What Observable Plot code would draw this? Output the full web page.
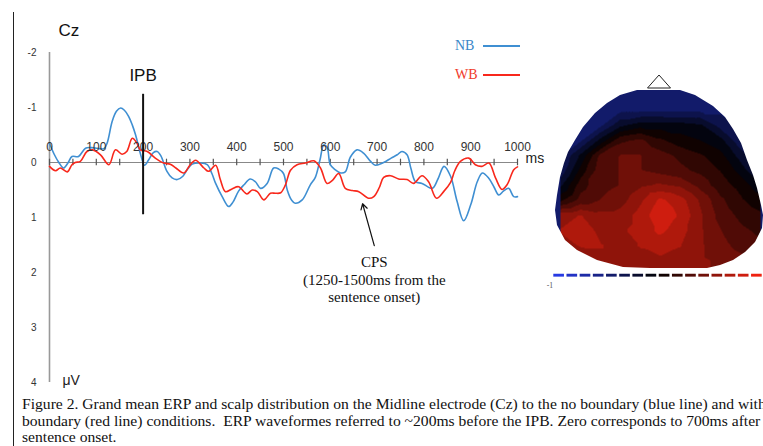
<!DOCTYPE html>
<html><head><meta charset="utf-8">
<script src="https://cdn.jsdelivr.net/npm/d3@7"></script>
<script src="https://cdn.jsdelivr.net/npm/@observablehq/plot@0.6"></script>
<style>
html,body{margin:0;padding:0;background:#fff}
body{width:763px;height:446px;overflow:hidden;position:relative;font-family:"Liberation Sans",Arial,sans-serif}
#border{position:absolute;left:13px;top:12px;width:1px;height:434px;background:#222}
#chart{position:absolute;left:0;top:0}
#scalp{position:absolute;left:548px;top:85px}
#bar{position:absolute;left:552px;top:268px}
#nose{position:absolute;left:645px;top:73px}
.lg{position:absolute;font-family:"Liberation Serif","Times New Roman",serif;font-size:14px;line-height:14px}
.lgline{position:absolute;height:1.5px;width:37px}
#caption{position:absolute;left:22px;top:397px;font-family:"Liberation Serif","Times New Roman",serif;font-size:14px;line-height:16.7px;white-space:nowrap;color:#111;transform:scaleX(1.115);transform-origin:0 0}
</style></head>
<body>
<div id="chart"></div>
<div id="scalp"></div>
<div id="bar"></div>
<svg id="nose" width="28" height="17"><polygon points="2.5,15 25.5,15 14,2" fill="#fff" stroke="#222" stroke-width="1"/></svg>
<div class="lg" style="left:455px;top:39px;color:#3a86c8">NB</div>
<div class="lgline" style="left:483px;top:45px;background:#3f8fd2"></div>
<div class="lg" style="left:455px;top:68px;color:#f03a2a">WB</div>
<div class="lgline" style="left:483px;top:74px;background:#f8281c"></div>
<div id="border"></div>
<div id="caption">Figure 2. Grand mean ERP and scalp distribution on the Midline electrode (Cz) to the no boundary (blue line) and with<br>boundary (red line) conditions.&nbsp; ERP waveformes referred to ~200ms before the IPB. Zero corresponds to 700ms after<br>sentence onset.</div>
<script>
// ---- data ----
const yTicks = [-2, -1, 0, 1, 2, 3, 4];
const msTicks = [0,50,100,150,200,250,300,350,400,450,500,550,600,650,700,750,800,850,900,950,1000];
const msLabels = [0,100,200,300,400,500,600,700,800,900,1000];

const nbTime = [0,10,20,30,40,48,62,77,90,102,116,123,134,143,152,160,169,177,184,194,203,212,222,230,238,251,262,273,285,295,305,323,337,347,355,369,383,392,404,415,429,440,451,465,479,490,500,508,517,525,540,557,568,578,586,593,600,610,622,632,643,657,671,685,696,714,730,743,753,764,772,782,796,818,830,843,857,871,885,900,914,925,939,950,960,970,981,992,1000];
const nbAmp  = [-0.35,-0.15,0.0,0.10,0.0,-0.11,-0.11,-0.26,-0.27,-0.26,-0.25,-0.35,-0.75,-0.93,-0.99,-0.95,-0.84,-0.68,-0.50,-0.17,0.05,-0.05,-0.18,-0.20,-0.12,0.16,0.28,0.31,0.25,0.12,0.03,0.01,0.04,0.20,0.38,0.62,0.80,0.72,0.52,0.41,0.30,0.35,0.47,0.38,0.10,0.12,0.20,0.50,0.68,0.74,0.68,0.41,0.27,-0.05,-0.32,-0.28,0.04,0.13,0.19,0.17,-0.10,-0.23,-0.17,-0.03,0.05,0.00,-0.08,-0.14,-0.20,-0.14,0.10,0.35,0.38,0.47,0.30,0.07,0.25,0.71,1.06,0.77,0.35,0.19,0.29,0.45,0.59,0.52,0.47,0.62,0.62];

const wbTime = [0,13,23,38,48,55,66,80,92,109,127,141,155,165,177,187,194,209,226,244,258,270,287,300,312,330,340,355,365,376,390,404,422,433,444,458,472,483,494,504,515,529,547,565,579,593,604,618,632,647,661,682,693,705,714,729,746,764,778,796,810,827,843,857,866,878,896,910,924,939,953,967,978,992,1000];
const wbAmp  = [0.07,0.15,0.10,0.17,0.04,0.00,-0.02,-0.20,-0.23,-0.14,0.04,-0.23,-0.15,-0.20,-0.44,-0.35,-0.23,-0.20,-0.08,0.01,0.03,0.10,0.19,0.05,-0.04,0.10,0.16,0.05,0.31,0.53,0.48,0.44,0.57,0.50,0.53,0.68,0.56,0.56,0.55,0.41,0.14,0.04,0.01,-0.03,0.10,0.38,0.33,0.20,0.47,0.51,0.53,0.65,0.62,0.45,0.27,0.24,0.30,0.31,0.38,0.24,0.35,0.65,0.52,0.36,0.15,-0.02,-0.08,0.04,0.07,0.01,0.28,0.49,0.40,0.13,0.08];

const ipbTime = [200];
const cpsNote = ["CPS\n(1250-1500ms from the\nsentence onset)"];

// scalp map samples (map grid columns / rows and potential values)
const scalpX = [560,580,600,620,640,660,680,700,720,740,760];
const scalpY = [95,110,125,140,155,170,185,200,215,230,245,260,272];
const scalpV = [
  [-0.4,-0.4,-0.4,-0.4,-0.4,-0.4,-0.4,-0.4,-0.4,-0.4,-0.4],
  [-0.4,-0.4,-0.4,-0.4,-0.4,-0.4,-0.4,-0.4,-0.4,-0.4,-0.4],
  [-0.4,-0.4,-0.4,-0.15,-0.05,-0.05,-0.06,-0.1,-0.3,-0.4,-0.4],
  [-0.4,-0.4,-0.08,0.22,0.28,0.15,0.05,0.0,-0.08,-0.35,-0.4],
  [-0.4,-0.1,0.28,0.38,0.38,0.3,0.22,0.14,0.04,-0.18,-0.4],
  [-0.35,0.04,0.33,0.38,0.38,0.33,0.28,0.22,0.12,-0.05,-0.3],
  [-0.15,0.2,0.33,0.38,0.48,0.52,0.48,0.33,0.18,0.08,-0.08],
  [0.1,0.3,0.38,0.45,0.6,0.78,0.68,0.48,0.28,0.15,0.05],
  [0.58,0.63,0.55,0.55,0.68,0.85,0.73,0.52,0.33,0.22,0.15],
  [0.63,0.68,0.6,0.6,0.68,0.78,0.68,0.52,0.38,0.28,0.22],
  [0.6,0.63,0.63,0.6,0.63,0.68,0.63,0.52,0.42,0.33,0.28],
  [0.58,0.58,0.6,0.6,0.6,0.6,0.58,0.52,0.48,0.42,0.38],
  [0.58,0.58,0.6,0.6,0.6,0.6,0.58,0.52,0.48,0.42,0.38]
];
const colorThresholds = [-0.875,-0.75,-0.625,-0.5,-0.375,-0.25,-0.125,0,0.125,0.25,0.375,0.5,0.625,0.75,0.875];
const colorStops = ["#2a3ef2", "#000000", "#ff2412"];
const barLabel = [-1];

// ---- build ----
const blue = "#3f8fd2", red = "#f8281c";
const nb = nbTime.map((t, i) => ({t, v: nbAmp[i]}));
const wb = wbTime.map((t, i) => ({t, v: wbAmp[i]}));

const chart = Plot.plot({
  width: 763, height: 392,
  marginLeft: 49, marginRight: 246, marginTop: 52, marginBottom: 10,
  style: {fontFamily: "'Liberation Sans', Arial, sans-serif", background: "transparent"},
  x: {domain: [0, 1000], axis: null},
  y: {domain: [-2, 4], reverse: true, axis: null},
  marks: [
    Plot.ruleX([0], {y1: -2, y2: 4, stroke: "#999", strokeWidth: 1.6}),
    Plot.text(yTicks, {x: 0, y: d => d, text: d => String(d), dx: -13, textAnchor: "end", fontSize: 10, fill: "#333"}),
    Plot.ruleY([0], {x1: 0, x2: 1000, stroke: "#888", strokeWidth: 1.2}),
    Plot.ruleX(msTicks, {x: d => d, y1: -0.06, y2: 0.06, stroke: "#555", strokeWidth: 1.2}),
    Plot.line(nb, {x: "t", y: "v", stroke: blue, strokeWidth: 1.6, curve: "catmull-rom"}),
    Plot.line(wb, {x: "t", y: "v", stroke: red, strokeWidth: 1.6, curve: "catmull-rom"}),
    Plot.text(msLabels, {x: d => d, y: 0, dy: -15, text: d => String(d), fontSize: 12, fill: "#333"}),
    Plot.text(["ms"], {x: 1000, y: 0, dx: 8, dy: -4, textAnchor: "start", fontSize: 14, fill: "#222"}),
    Plot.text(["μV"], {x: 0, y: 4, dx: 13, dy: -2, textAnchor: "start", fontSize: 14, fill: "#222"}),
    Plot.text(["Cz"], {frameAnchor: "top-left", lineAnchor: "middle", dx: 9, dy: -22, textAnchor: "start", fontSize: 17, fill: "#111"}),
    Plot.ruleX(ipbTime, {x: d => d, y1: -1.24, y2: 0.95, stroke: "#111", strokeWidth: 2}),
    Plot.text(["IPB"], {x: ipbTime[0], y: -1.58, fontSize: 17, fill: "#111"}),
    Plot.arrow(cpsNote, {x1: 694, y1: 1.51, x2: 669, y2: 0.75, stroke: "#111", strokeWidth: 1.2, headLength: 8}),
    Plot.text(cpsNote, {x: 694, y: 2.12, text: d => d, fontSize: 15, lineHeight: 1.14, fontFamily: "'Liberation Serif', 'Times New Roman', serif", fill: "#111"})
  ]
});
document.getElementById("chart").appendChild(chart);

// scalp topography
const mid = colorThresholds.map((t, i) => i === 0 ? (-1 + t) / 2 : (colorThresholds[i - 1] + t) / 2);
mid.push((colorThresholds[colorThresholds.length - 1] + 1) / 2);
const interp = d3.piecewise(d3.interpolateRgb, colorStops);
const colorRange = mid.map(m => interp((m + 1) / 2));
const colorScale = {type: "threshold", domain: colorThresholds, range: colorRange};

const pts = scalpY.flatMap((y, i) => scalpX.map((x, j) => ({x, y, v: scalpV[i][j]})));
const scalp = Plot.plot({
  width: 215, height: 190, margin: 0,
  x: {domain: [548, 763], axis: null},
  y: {domain: [85, 275], reverse: true, axis: null},
  color: colorScale,
  marks: [
    Plot.raster(pts, {x: "x", y: "y", fill: "v", interpolate: "barycentric", x1: 548, x2: 763, y1: 85, y2: 275})
  ]
});
const outline = [[637,90],[680,90],[695,95],[713,106],[725,117],[733,129],[741,143],[747,160],[753,175],[757,188],[761,205],[763,215],[762,228],[755,242],[745,252],[733,260],[720,265],[707,268],[650,268],[623,267],[597,260],[577,250],[565,240],[557,225],[555,210],[557,195],[560,177],[564,163],[568,152],[575,140],[583,127],[595,113],[607,103],[620,95]];
scalp.style.clipPath = "path('M" + outline.map(([x, y]) => (x - 548) + "," + (y - 85)).join(" L") + " Z')";
document.getElementById("scalp").appendChild(scalp);

// colour bar
const bins = mid.map((m, i) => ({m, lo: i === 0 ? -1 : colorThresholds[i - 1], hi: i === mid.length - 1 ? 1 : colorThresholds[i]}));
const bar = Plot.plot({
  width: 220, height: 22, marginLeft: 0, marginRight: 0, marginTop: 6, marginBottom: 13,
  x: {domain: [-1, 1], axis: null},
  color: colorScale,
  marks: [
    Plot.rect(bins, {x1: d => d.lo + 0.012, x2: d => d.hi - 0.012, fill: "m"}),
    Plot.text(barLabel, {x: d => d, text: d => String(d), dx: -6, dy: 10, textAnchor: "start", fontSize: 8, fill: "#555", fontFamily: "'Liberation Serif', serif"})
  ]
});
bar.style.overflow = "visible";
document.getElementById("bar").appendChild(bar);
</script>
</body></html>
